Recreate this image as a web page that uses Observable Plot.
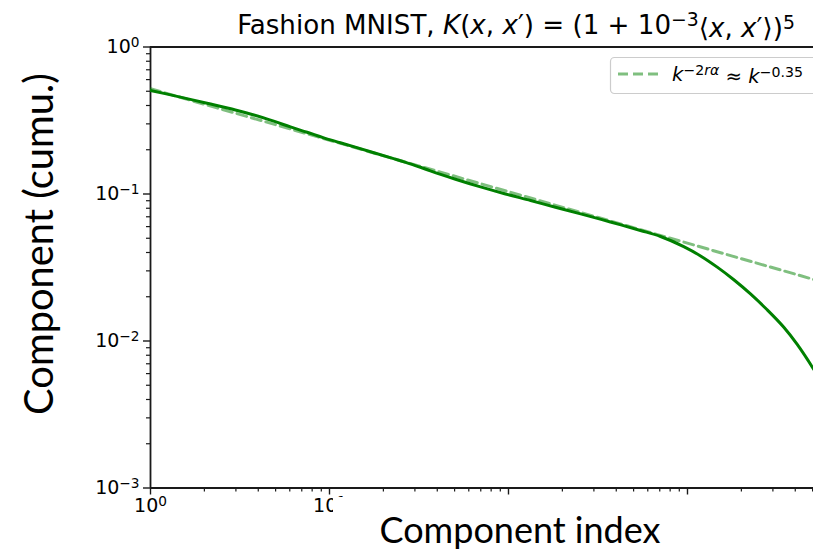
<!DOCTYPE html>
<html>
<head>
<meta charset="utf-8">
<script src="https://cdn.jsdelivr.net/npm/d3@7"></script>
<script src="https://cdn.jsdelivr.net/npm/@observablehq/plot@0.6"></script>
<style>
  html, body { margin: 0; padding: 0; background: #fff; overflow: hidden; }
  #wrap { position: relative; width: 813px; height: 552px; }
</style>
</head>
<body>
<div id="wrap"></div>
<script>
// ---- data ----
const componentIndex = [1, 1.35, 2.07, 2.98, 3.78, 4.88, 6.05, 7.5, 9.29, 11.5, 17.7, 22.8, 26.6, 32.2, 36.6, 50.6, 69.8, 96.2, 133, 183, 253, 371, 546, 707, 953, 1183, 1466, 1815, 2249, 2787, 3453, 4102, 5077];
const componentCumu  = [0.506, 0.467, 0.414, 0.373, 0.345, 0.313, 0.286, 0.263, 0.241, 0.223, 0.191, 0.174, 0.164, 0.152, 0.1436, 0.126, 0.1117, 0.100, 0.0903, 0.0813, 0.0733, 0.0645, 0.0565, 0.0514, 0.0439, 0.0379, 0.0318, 0.0261, 0.0209, 0.0163, 0.0124, 0.00947, 0.0064];
const powerLawIndex = [1, 5077];
const powerLawValue = [0.52, 0.0262];
const xMajorTicks = [1, 10, 100, 1000];
const xLabelledTicks = [1, 10];
const yMajorTicks = [1, 0.1, 0.01, 0.001];
const titleText = "Fashion MNIST, ";
const xLabel = "Component index";
const yLabel = "Component (cumu.)";

const spectrum = componentIndex.map((k, i) => ({k, v: componentCumu[i]}));
const powerLaw = powerLawIndex.map((k, i) => ({k, v: powerLawValue[i]}));

const minorTicks = (lo, hi) => {
  const out = [];
  for (let e = lo; e < hi; e++) for (let m = 2; m <= 9; m++) out.push(m * Math.pow(10, e));
  return out;
};
const xMinorTicks = minorTicks(0, 4).filter(d => d < 5058);
const yMinorTicks = minorTicks(-3, 0);

const fmt = d => "10^" + Math.round(Math.log10(d));
const fmtX = d => xLabelledTicks.includes(d) ? fmt(d) : "";
const axisStroke = "#1a1a1a";

const chart = Plot.plot({
  width: 813, height: 552,
  marginLeft: 150, marginRight: 0, marginTop: 46.5, marginBottom: 64.5,
  style: {fontFamily: "DejaVu Sans", fontSize: "19px", color: "#000", background: "#fff", overflow: "visible"},
  x: {type: "log", domain: [1, 5058]},
  y: {type: "log", domain: [1e-3, 1]},
  marks: [
    Plot.axisX({ticks: xMinorTicks, tickSize: 4, tickFormat: () => "", label: null, strokeWidth: 1.2, stroke: axisStroke}),
    Plot.axisX({ticks: xMajorTicks, tickSize: 7, tickPadding: 3, tickFormat: fmtX, label: null, strokeWidth: 1.4, stroke: axisStroke}),
    Plot.axisY({ticks: yMinorTicks, tickSize: 4, tickFormat: () => "", label: null, strokeWidth: 1.2, stroke: axisStroke}),
    Plot.axisY({ticks: yMajorTicks, tickSize: 7, tickPadding: 4, tickFormat: fmt, label: null, strokeWidth: 1.4, stroke: axisStroke}),
    Plot.ruleX([1], {stroke: axisStroke, strokeWidth: 1.8}),
    Plot.ruleY([1e-3, 1], {stroke: axisStroke, strokeWidth: 1.8}),
    Plot.line(powerLaw, {x: "k", y: "v", stroke: "green", strokeOpacity: 0.5, strokeWidth: 3, strokeDasharray: "10,5", clip: true}),
    Plot.line(spectrum, {x: "k", y: "v", stroke: "green", strokeWidth: 3, curve: "catmull-rom", clip: true})
  ]
});
document.getElementById("wrap").appendChild(chart);

const svg = d3.select(chart);

// superscript tick labels
svg.selectAll('g[aria-label$="tick label"] text').each(function() {
  const t = d3.select(this);
  const s = t.text();
  if (!s.startsWith("10^")) return;
  const e = s.slice(3).replace("-", "\u2212");
  t.text("10");
  t.append("tspan").attr("dy", "-0.42em").attr("font-size", "0.72em").text(e);
});

// fit a text element's font size to a target width
function fitWidth(sel, target) {
  const node = sel.node();
  const fs = parseFloat(sel.attr("font-size"));
  const w = node.getComputedTextLength();
  if (w > 0) sel.attr("font-size", (fs * target / w).toFixed(2));
}

// white box behind x label (covers part of the 10^1 label as in the source)
svg.append("rect").attr("x", 333).attr("y", 497).attr("width", 480).attr("height", 55).attr("fill", "#fff");

const xl = svg.append("text")
  .attr("x", 520).attr("y", 543).attr("text-anchor", "middle")
  .attr("font-family", "Lato").attr("font-size", 36).attr("fill", "#000")
  .text(xLabel);
fitWidth(xl, 281);

const yl = svg.append("text")
  .attr("transform", "translate(53,244) rotate(-90)").attr("text-anchor", "middle")
  .attr("font-family", "Lato").attr("font-size", 36).attr("fill", "#000")
  .text(yLabel);
fitWidth(yl, 342);

// title
const title = svg.append("text")
  .attr("x", 516).attr("y", 34).attr("text-anchor", "middle")
  .attr("font-family", "DejaVu Sans").attr("font-size", 26).attr("fill", "#000");
const parts = [
  [titleText, false], ["K", true], ["(", false], ["x", true], [", ", false], ["x", true], ["\u2032", false], [") = (1 + 10", false]
];
parts.forEach(([s, it]) => title.append("tspan").attr("font-style", it ? "italic" : null).text(s));
title.append("tspan").attr("dy", "-0.42em").attr("font-size", "0.72em").text("\u22123");
title.append("tspan").attr("dy", "0.42em").text("\u27e8");
title.append("tspan").attr("font-style", "italic").text("x");
title.append("tspan").text(", ");
title.append("tspan").attr("font-style", "italic").text("x");
title.append("tspan").text("\u2032\u27e9)");
title.append("tspan").attr("dy", "-0.42em").attr("font-size", "0.72em").text("5");
fitWidth(title, 558);

// legend
const lg = svg.append("g");
lg.append("rect").attr("x", 610.5).attr("y", 57.5).attr("width", 240).attr("height", 36)
  .attr("rx", 4).attr("fill", "#fff").attr("fill-opacity", 0.8).attr("stroke", "#cccccc").attr("stroke-width", 1.2);
lg.append("line").attr("x1", 618).attr("x2", 658).attr("y1", 74).attr("y2", 74)
  .attr("stroke", "green").attr("stroke-opacity", 0.5).attr("stroke-width", 3).attr("stroke-dasharray", "10,5");
const lt = lg.append("text").attr("x", 672).attr("y", 81).attr("text-anchor", "start")
  .attr("font-family", "DejaVu Sans").attr("font-size", 19).attr("fill", "#000");
lt.append("tspan").attr("font-style", "italic").text("k");
lt.append("tspan").attr("dy", "-0.42em").attr("font-size", "0.72em").text("\u22122");
lt.append("tspan").attr("font-size", "0.72em").attr("font-style", "italic").text("r\u03b1");
lt.append("tspan").attr("dy", "0.42em").text(" \u2248 ");
lt.append("tspan").attr("font-style", "italic").text("k");
lt.append("tspan").attr("dy", "-0.42em").attr("font-size", "0.72em").text("\u22120.35");
fitWidth(lt, 131);
</script>
</body>
</html>
